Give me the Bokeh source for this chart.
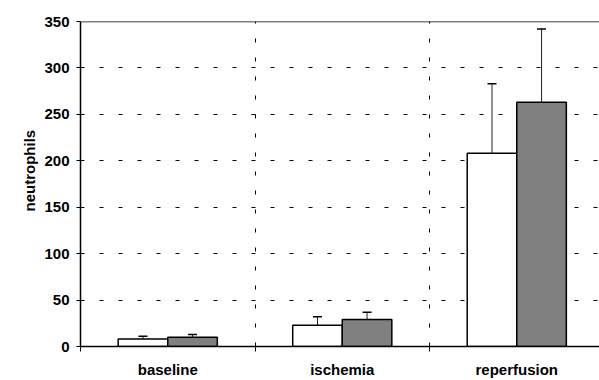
from bokeh.plotting import figure
from bokeh.models import (Range1d, FixedTicker, ColumnDataSource, Whisker, TeeHead,
                          Span, Title)
from bokeh.embed import file_html
from bokeh.resources import INLINE

# ---- data ----
categories = ["baseline", "ischemia", "reperfusion"]
white_means = [8, 23, 208]
white_err = [3, 9, 75]
gray_means = [10, 29, 263]
gray_err = [3, 8, 79]
y_ticks = [0, 50, 100, 150, 200, 250, 300, 350]

FONT = "Liberation Sans"
FS = "15px"
bar_w = 0.284
centers = [i + 0.5 for i in range(len(categories))]

p = figure(width=599, height=380, output_backend="svg", toolbar_location=None,
           x_range=Range1d(0, 2.974), y_range=Range1d(0, 350),
           min_border_left=80, min_border_top=21, min_border_right=0,
           min_border_bottom=32)
p.outline_line_color = None
p.background_fill_color = "white"
p.border_fill_color = "white"

# bars
wx = [c - bar_w / 2 for c in centers]
gx = [c + bar_w / 2 for c in centers]
src_w = ColumnDataSource(dict(x=wx, top=white_means,
                              up=[m + e for m, e in zip(white_means, white_err)]))
src_g = ColumnDataSource(dict(x=gx, top=gray_means,
                              up=[m + e for m, e in zip(gray_means, gray_err)]))

for src in (src_w, src_g):
    p.add_layout(Whisker(source=src, base="x", lower="top", upper="up",
                         line_color="#222222", line_width=1,
                         upper_head=TeeHead(size=9, line_color="black", line_width=1.5),
                         lower_head=None, level="underlay"))

p.vbar(x="x", top="top", width=bar_w, source=src_w, fill_color="white",
       line_color="black", line_width=1.5)
p.vbar(x="x", top="top", width=bar_w, source=src_g, fill_color="#808080",
       line_color="black", line_width=1.5)

# axes
p.xaxis.ticker = FixedTicker(ticks=centers, minor_ticks=[0, 1, 2])
p.xaxis.major_label_overrides = {c: n for c, n in zip(centers, categories)}
p.xaxis.major_tick_out = 0
p.xaxis.major_tick_in = 0
p.xaxis.minor_tick_out = 5
p.xaxis.minor_tick_in = 0
p.xaxis.minor_tick_line_color = "black"
p.xaxis.major_label_standoff = 9
p.xaxis.major_label_text_font = FONT
p.xaxis.major_label_text_font_style = "bold"
p.xaxis.major_label_text_font_size = FS
p.xaxis.major_label_text_color = "black"
p.xaxis.axis_line_color = "black"
p.xaxis.axis_line_width = 1.5

p.yaxis.ticker = FixedTicker(ticks=y_ticks)
p.yaxis.minor_tick_line_color = None
p.yaxis.major_tick_out = 4
p.yaxis.major_tick_in = 0
p.yaxis.major_tick_line_color = "black"
p.yaxis.major_label_standoff = 7
p.yaxis.major_label_text_font = FONT
p.yaxis.major_label_text_font_style = "bold"
p.yaxis.major_label_text_font_size = FS
p.yaxis.major_label_text_color = "black"
p.yaxis.axis_line_color = "black"
p.yaxis.axis_line_width = 1.5

# grids
p.xgrid.ticker = FixedTicker(ticks=[1, 2])
p.xgrid.grid_line_color = "black"
p.xgrid.grid_line_dash = "4 15"
p.xgrid.grid_line_width = 1
p.ygrid.ticker = FixedTicker(ticks=y_ticks[1:-1])
p.ygrid.grid_line_color = "black"
p.ygrid.grid_line_dash = "4 15"
p.ygrid.grid_line_width = 1

# top frame line
p.add_layout(Span(location=350, dimension="width", line_color="black", line_width=1.5))

# y axis title
p.add_layout(Title(text="neutrophils", align="left", offset=135, standoff=8,
                   text_font=FONT, text_font_style="bold", text_font_size=FS,
                   text_color="black"), "left")

open("out.html", "w").write(file_html(p, INLINE))
